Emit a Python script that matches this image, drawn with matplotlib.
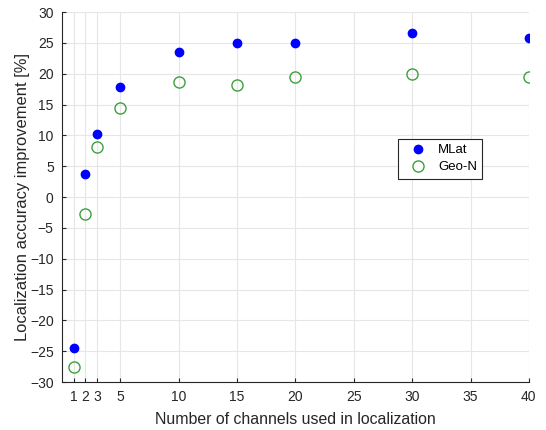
import matplotlib
matplotlib.use("Agg")
import matplotlib.pyplot as plt

## channel counts and improvement values
channels = [1, 2, 3, 5, 10, 15, 20, 30, 40]
mlat = [-24.5, 3.8, 10.3, 17.9, 23.5, 25.0, 25.0, 26.6, 25.8]
geo_n = [-27.6, -2.8, 8.1, 14.5, 18.6, 18.2, 19.5, 20.0, 19.5]
x_ticks = [1, 2, 3, 5, 10, 15, 20, 25, 30, 35, 40]
y_ticks = list(range(-30, 31, 5))

plt.rcParams['font.family'] = ['Liberation Sans', 'DejaVu Sans']

fig = plt.figure(figsize=(5.46, 4.30), dpi=100)
ax = fig.add_axes([0.1136, 0.1116, 0.855, 0.8604])

ax.plot(channels, mlat, linestyle='none', marker='o', markersize=6,
        color='#0000ff', label='MLat', zorder=3)
ax.plot(channels, geo_n, linestyle='none', marker='o', markersize=8,
        markerfacecolor='none', markeredgecolor='#3ca03c', markeredgewidth=1.0,
        label='Geo-N', zorder=3)

ax.set_xlim(0, 40)
ax.set_ylim(-30, 30)
ax.set_xticks(x_ticks)
ax.set_yticks(y_ticks)
ax.grid(True, color='#e6e6e6', linewidth=0.8)
ax.set_axisbelow(True)

for side in ['top', 'right']:
    ax.spines[side].set_visible(False)
for side in ['left', 'bottom']:
    ax.spines[side].set_color('#262626')
    ax.spines[side].set_linewidth(0.8)
ax.tick_params(direction='in', length=3, colors='#262626', labelsize=10, pad=6)

ax.set_xlabel('Number of channels used in localization', fontsize=11.4, color='#262626')
ax.set_ylabel('Localization accuracy improvement [%]', fontsize=11.9, color='#262626')
ax.xaxis.set_label_coords(0.5, -0.081)
ax.yaxis.set_label_coords(-0.069, 0.5)

leg = ax.legend(loc='upper left', bbox_to_anchor=(0.7195, 0.657), borderaxespad=0,
                fontsize=9.5, fancybox=False, framealpha=1, edgecolor='#262626',
                borderpad=0.4, handlelength=2.2, handletextpad=0.45, labelspacing=0.35)
leg.get_frame().set_linewidth(0.8)

fig.savefig('out.png', dpi=100)
